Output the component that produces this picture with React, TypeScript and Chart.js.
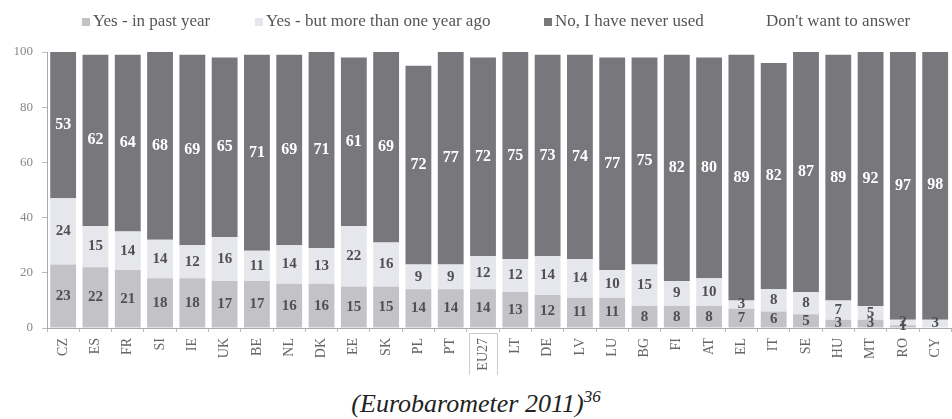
import { useEffect, useRef } from "react";
import { Chart, registerables } from "chart.js";

Chart.register(...registerables);

const categories = ["CZ","ES","FR","SI","IE","UK","BE","NL","DK","EE","SK","PL","PT","EU27","LT","DE","LV","LU","BG","FI","AT","EL","IT","SE","HU","MT","RO","CY"];
const pastYear = [23,22,21,18,18,17,17,16,16,15,15,14,14,14,13,12,11,11,8,8,8,7,6,5,3,3,1,0];
const moreThanYear = [24,15,14,14,12,16,11,14,13,22,16,9,9,12,12,14,14,10,15,9,10,3,8,8,7,5,2,3];
const neverUsed = [53,62,64,68,69,65,71,69,71,61,69,72,77,72,75,73,74,77,75,82,80,89,82,87,89,92,97,98];
const noAnswer = [0,1,1,0,1,2,1,1,0,2,0,5,0,2,0,1,1,2,2,1,2,1,4,0,1,0,0,0];
const seriesNames = ["Yes - in past year","Yes - but more than one year ago","No, I have never used","Don't want to answer"];
const highlightedCategory = "EU27";

const COLORS = ["#c3c3c7", "#e6e7ec", "#78787c", "#ffffff"];
const SERIF = "'Liberation Serif', 'Times New Roman', serif";
const LEGEND_X = [82, 255, 544, 755];

const valueLabels = {
  id: "valueLabels",
  afterDatasetsDraw(chart: any) {
    const ctx = chart.ctx;
    ctx.save();
    ctx.textAlign = "center";
    ctx.textBaseline = "middle";
    for (let di = 0; di < 3; di++) {
      const meta = chart.getDatasetMeta(di);
      const data = chart.data.datasets[di].data as number[];
      meta.data.forEach((el: any, i: number) => {
        const v = data[i];
        if (!v) return;
        const p = el.getProps(["x", "y", "base"], true);
        if (di === 2) {
          ctx.font = `bold 16px ${SERIF}`;
          ctx.fillStyle = "#ffffff";
        } else {
          ctx.font = `bold 15px ${SERIF}`;
          ctx.fillStyle = "#505054";
        }
        ctx.fillText(String(v), p.x, (p.y + p.base) / 2);
      });
    }
    ctx.restore();
  },
};

const customLegend = {
  id: "customLegend",
  afterDraw(chart: any) {
    const ctx = chart.ctx;
    ctx.save();
    ctx.font = `17px ${SERIF}`;
    ctx.textBaseline = "middle";
    ctx.textAlign = "left";
    seriesNames.forEach((name, i) => {
      const x = LEGEND_X[i];
      ctx.fillStyle = COLORS[i];
      ctx.fillRect(x, 18, 8, 8);
      ctx.fillStyle = "#555";
      ctx.fillText(name, x + 11, 22);
    });
    ctx.restore();
  },
};

const highlightBox = {
  id: "highlightBox",
  afterDraw(chart: any) {
    const idx = categories.indexOf(highlightedCategory);
    if (idx < 0) return;
    const xs = chart.scales.x;
    const cx = xs.getPixelForValue(idx);
    const top = chart.chartArea.bottom + 5;
    const ctx = chart.ctx;
    ctx.save();
    ctx.strokeStyle = "#999";
    ctx.setLineDash([1, 1]);
    ctx.lineWidth = 1;
    ctx.strokeRect(Math.round(cx - 14) + 0.5, top + 0.5, 28, 50);
    ctx.restore();
  },
};

export default function App() {
  const ref = useRef<HTMLCanvasElement>(null);
  useEffect(() => {
    if (!ref.current) return;
    const chart = new Chart(ref.current, {
      type: "bar",
      data: {
        labels: categories,
        datasets: [pastYear, moreThanYear, neverUsed, noAnswer].map((d, i) => ({
          label: seriesNames[i],
          data: d,
          backgroundColor: COLORS[i],
          borderWidth: 0,
          barPercentage: 0.8,
          categoryPercentage: 1,
        })),
      },
      options: {
        responsive: false,
        animation: false,
        devicePixelRatio: 1,
        layout: { padding: { top: 52, right: 1, left: 0, bottom: 0 } },
        plugins: { legend: { display: false }, tooltip: { enabled: false } },
        scales: {
          x: {
            stacked: true,
            grid: { display: true, drawOnChartArea: false, tickLength: 4, color: "#bbb", offset: true },
            border: { color: "#aaa", dash: [1, 2] },
            ticks: {
              maxRotation: 90,
              minRotation: 90,
              autoSkip: false,
              font: { family: SERIF, size: 14 },
              color: "#666",
              padding: 6,
            },
            afterFit: (s: any) => { s.height = 47; },
          },
          y: {
            stacked: true,
            min: 0,
            max: 100,
            ticks: { stepSize: 20, font: { family: SERIF, size: 13 }, color: "#888", padding: 9 },
            grid: { display: true, drawOnChartArea: false, tickLength: 5, color: "#bbb" },
            border: { color: "#aaa", dash: [1, 2] },
            afterFit: (s: any) => { s.width = 47; },
          },
        },
      },
      plugins: [valueLabels, customLegend, highlightBox],
    });
    return () => chart.destroy();
  }, []);

  return (
    <div style={{ position: "absolute", left: 0, top: 0, width: 952, height: 419, overflow: "hidden", background: "#fff" }}>
      <canvas ref={ref} width={958} height={375} style={{ display: "block" }} />
      <div
        style={{
          position: "absolute",
          left: 0,
          width: 952,
          top: 382,
          textAlign: "center",
          fontFamily: "'Liberation Serif', serif",
          fontStyle: "italic",
          fontSize: 26,
          color: "#222",
          lineHeight: "30px",
        }}
      >
        (Eurobarometer 2011)<sup style={{ fontSize: 17 }}>36</sup>
      </div>
    </div>
  );
}
